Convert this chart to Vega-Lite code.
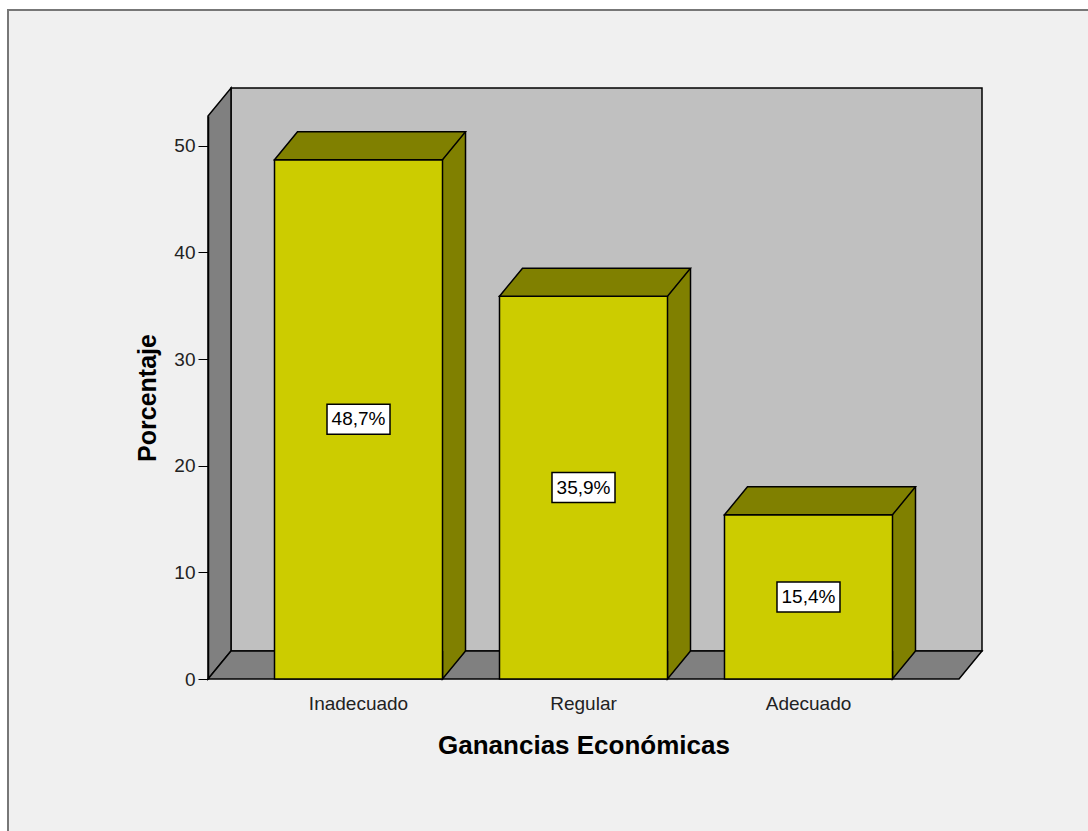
{
  "$schema": "https://vega.github.io/schema/vega-lite/v6.json",
  "width": 751,
  "height": 563,
  "autosize": {"type": "none"},
  "padding": {"left": 208, "top": 116, "right": 129, "bottom": 152},
  "background": "#ffffff",
  "config": {
    "view": {"stroke": null},
    "font": "Liberation Sans",
    "axisY": {
      "grid": false,
      "tickSize": 10, "tickColor": "#000000", "tickWidth": 1,
      "domainColor": "#000000", "domainWidth": 1.5,
      "labelFont": "Liberation Sans", "labelFontSize": 19, "labelColor": "#222222", "labelPadding": 3,
      "titleFont": "Liberation Sans", "titleFontSize": 25, "titleFontWeight": "bold", "titleColor": "#000000", "titlePadding": 13
    },
    "axisX": {
      "domain": false, "ticks": false, "labelAngle": 0, "grid": false,
      "labelFont": "Liberation Sans", "labelFontSize": 19, "labelColor": "#222222", "labelPadding": 15,
      "titleFont": "Liberation Sans", "titleFontSize": 26, "titleFontWeight": "bold", "titleColor": "#000000", "titlePadding": 19
    }
  },
  "datasets": {
    "ganancias": [
      {"categoria": "Inadecuado", "pct": 48.7, "etiqueta": "48,7%"},
      {"categoria": "Regular", "pct": 35.9, "etiqueta": "35,9%"},
      {"categoria": "Adecuado", "pct": 15.4, "etiqueta": "15,4%"}
    ]
  },
  "layer": [
    {
      "data": {"values": [{}]},
      "mark": {"type": "rect", "fill": "#f0f0f0", "stroke": "#777777", "strokeWidth": 2},
      "encoding": {"x": {"value": -200}, "x2": {"value": 900}, "y": {"value": -106}, "y2": {"value": 730}}
    },
    {
      "data": {"values": [{}]},
      "mark": {"type": "rect", "fill": "#c0c0c0", "stroke": "black", "strokeWidth": 1.5, "yOffset": -28, "y2Offset": -28},
      "encoding": {
        "x": {"value": 23}, "x2": {"value": 774},
        "y": {"datum": 52.8, "type": "quantitative", "title": "Porcentaje", "axis": {"zindex": 1, "values": [0, 10, 20, 30, 40, 50]}},
        "y2": {"datum": 0}
      }
    },
    {
      "data": {"values": [{}]},
      "mark": {"type": "point", "shape": "M 0 0 L 23 -28 L 23 -591 L 0 -563 Z", "size": 4, "filled": true, "fill": "#808080", "stroke": "black", "strokeWidth": 1.5, "opacity": 1},
      "encoding": {"x": {"value": 0}, "y": {"datum": 0, "type": "quantitative", "title": "Porcentaje", "axis": {"zindex": 1, "values": [0, 10, 20, 30, 40, 50]}}}
    },
    {
      "data": {"values": [{}]},
      "mark": {"type": "point", "shape": "M 0 0 L 23 -28 L 774 -28 L 751 0 Z", "size": 4, "filled": true, "fill": "#808080", "stroke": "black", "strokeWidth": 1.5, "opacity": 1},
      "encoding": {"x": {"value": 0}, "y": {"datum": 0, "type": "quantitative", "title": "Porcentaje", "axis": {"zindex": 1, "values": [0, 10, 20, 30, 40, 50]}}}
    },
    {
      "data": {"name": "ganancias"},
      "encoding": {
        "x": {
          "field": "categoria", "type": "nominal", "sort": null,
          "scale": {"paddingInner": 0.2533, "paddingOuter": 0.2956},
          "title": "Ganancias Económicas",
          "axis": {"zindex": 1}
        }
      },
      "layer": [
        {
          "mark": {"type": "bar", "fill": "#808000", "strokeWidth": 0, "xOffset": 23, "yOffset": -28, "y2Offset": -28},
          "encoding": {"y": {"field": "pct", "type": "quantitative", "title": "Porcentaje", "axis": {"zindex": 1, "values": [0, 10, 20, 30, 40, 50]}}}
        },
        {
          "mark": {"type": "point", "shape": "M 107 -28 L 84 0 L 84 -28", "size": 4, "filled": true, "fill": "#808000", "stroke": "black", "strokeWidth": 1.5, "opacity": 1},
          "encoding": {"y": {"datum": 0, "type": "quantitative", "title": "Porcentaje", "axis": {"zindex": 1, "values": [0, 10, 20, 30, 40, 50]}}}
        },
        {
          "mark": {"type": "bar", "fill": "#cccc00", "stroke": "black", "strokeWidth": 1.5},
          "encoding": {
            "y": {
              "field": "pct", "type": "quantitative",
              "scale": {"domain": [0, 52.8], "nice": false},
              "title": "Porcentaje", "axis": {"zindex": 1, "values": [0, 10, 20, 30, 40, 50]}
            }
          }
        },
        {
          "mark": {"type": "point", "shape": "M -84 0 L -61 -28 L 107 -28 L 84 0 Z", "size": 4, "filled": true, "fill": "#808000", "stroke": "black", "strokeWidth": 1.5, "opacity": 1},
          "encoding": {"y": {"field": "pct", "type": "quantitative", "title": "Porcentaje", "axis": {"zindex": 1, "values": [0, 10, 20, 30, 40, 50]}}}
        },
        {
          "mark": {"type": "rule", "stroke": "black", "strokeWidth": 1.5, "xOffset": 107, "yOffset": -28, "y2Offset": -28},
          "encoding": {"y": {"field": "pct", "type": "quantitative", "title": "Porcentaje", "axis": {"zindex": 1, "values": [0, 10, 20, 30, 40, 50]}}, "y2": {"datum": 0}}
        },
        {
          "transform": [{"calculate": "datum.pct / 2", "as": "mid"}],
          "mark": {"type": "point", "shape": "M -31.5 -15 L 31.5 -15 L 31.5 15 L -31.5 15 Z", "size": 4, "filled": true, "fill": "#ffffff", "stroke": "black", "strokeWidth": 1.5, "opacity": 1},
          "encoding": {"y": {"field": "mid", "type": "quantitative", "title": "Porcentaje", "axis": {"zindex": 1, "values": [0, 10, 20, 30, 40, 50]}}}
        },
        {
          "transform": [{"calculate": "datum.pct / 2", "as": "mid"}],
          "mark": {"type": "text", "font": "Liberation Sans", "fontSize": 19, "color": "#000000", "baseline": "middle", "align": "center"},
          "encoding": {"y": {"field": "mid", "type": "quantitative", "title": "Porcentaje", "axis": {"zindex": 1, "values": [0, 10, 20, 30, 40, 50]}}, "text": {"field": "etiqueta"}}
        }
      ]
    }
  ]
}
